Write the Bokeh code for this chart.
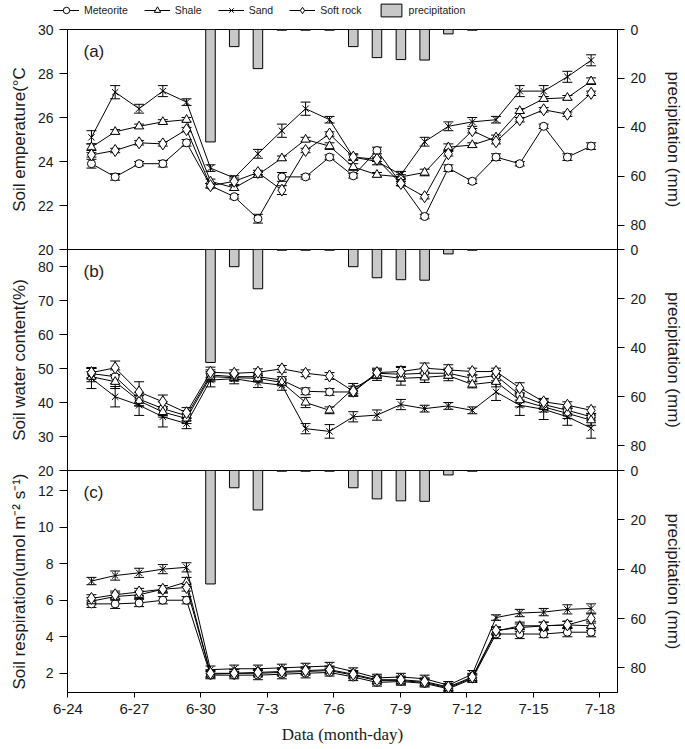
from bokeh.plotting import figure
from bokeh.layouts import column
from bokeh.models import (Range1d, LinearAxis, FixedTicker, Whisker, TeeHead,
                          ColumnDataSource, Legend, LegendItem, Label)
from bokeh.embed import file_html
from bokeh.resources import INLINE

# ---------------- data ----------------
day_pos = [1.06, 2.13, 3.21, 4.28, 5.35, 6.43, 7.50, 8.57, 9.65, 10.72, 11.80,
           12.87, 13.94, 15.02, 16.09, 17.16, 18.24, 19.31, 20.38, 21.46, 22.53, 23.60]
tick_days = [0, 3, 6, 9, 12, 15, 18, 21, 24]
tick_labels = ["6-24", "6-27", "6-30", "7-3", "7-6", "7-9", "7-12", "7-15", "7-18"]

precip_mm = [0, 0, 0, 0, 0, 46, 7, 16, 0.3, 0.3, 0.3, 7, 11.5, 12.3, 12.5, 1.8, 0.3, 0, 0, 0, 0, 0]

series_names = ["Meteorite", "Shale", "Sand", "Soft rock"]

# (a) soil temperature
temp_meteorite = [23.9, 23.3, 23.9, 23.9, 24.85, 22.9, 22.4, 21.4, 23.3, 23.3, 24.2,
                  23.35, 24.5, 23.0, 21.5, 23.7, 23.1, 24.2, 23.9, 25.6, 24.2, 24.7]
temp_shale = [24.65, 25.35, 25.6, 25.8, 25.9, 23.1, 22.8, 23.4, 24.15, 25.0, 24.7,
              23.75, 23.4, 23.3, 23.5, 24.65, 24.75, 25.1, 26.3, 26.85, 26.9, 27.65]
temp_sand = [25.1, 27.15, 26.4, 27.2, 26.7, 23.7, 23.25, 24.35, 25.4, 26.4, 25.9,
             24.2, 24.0, 23.4, 24.9, 25.6, 25.8, 25.9, 27.2, 27.2, 27.85, 28.6]
temp_softrock = [24.3, 24.5, 24.85, 24.8, 25.45, 22.9, 23.1, 23.5, 22.7, 24.5, 25.25,
                 24.2, 24.1, 23.0, 22.4, 24.35, 25.4, 24.9, 25.9, 26.35, 26.15, 27.1]
temp_err_meteorite = [0.2, 0.15, 0.1, 0.15, 0.15, 0.1, 0.1, 0.2, 0.2, 0.1, 0.1,
                      0.1, 0.15, 0.1, 0.1, 0.15, 0.1, 0.15, 0.1, 0.1, 0.15, 0.15]
temp_err_shale = [0.15, 0.1, 0.1, 0.1, 0.1, 0.1, 0.1, 0.1, 0.1, 0.1, 0.15,
                  0.15, 0.1, 0.1, 0.15, 0.15, 0.1, 0.1, 0.1, 0.1, 0.1, 0.15]
temp_err_sand = [0.3, 0.3, 0.2, 0.25, 0.15, 0.15, 0.1, 0.2, 0.3, 0.3, 0.15,
                 0.15, 0.15, 0.15, 0.2, 0.2, 0.2, 0.15, 0.25, 0.25, 0.25, 0.25]
temp_err_softrock = [0.1, 0.1, 0.1, 0.1, 0.1, 0.1, 0.15, 0.1, 0.2, 0.1, 0.1,
                     0.1, 0.1, 0.1, 0.1, 0.1, 0.1, 0.1, 0.1, 0.1, 0.1, 0.1]

# (b) soil water content
water_meteorite = [48.5, 47.6, 41.0, 38.2, 36.1, 48.1, 47.6, 47.6, 46.6, 43.3, 43.1,
                   43.1, 48.6, 48.3, 48.6, 48.6, 47.1, 47.9, 42.2, 39.4, 37.7, 35.8]
water_shale = [47.6, 46.1, 40.5, 37.2, 35.3, 47.6, 47.3, 47.1, 45.9, 40.0, 37.7,
               44.1, 48.0, 47.1, 47.4, 47.9, 45.3, 46.1, 40.7, 38.7, 36.8, 34.8]
water_sand = [47.1, 41.7, 39.2, 35.8, 33.8, 46.6, 47.0, 45.9, 45.1, 32.3, 31.5,
              35.8, 36.3, 39.4, 38.2, 39.0, 37.7, 43.1, 39.2, 38.0, 35.8, 32.5]
water_softrock = [48.8, 50.2, 43.1, 40.2, 37.0, 48.9, 48.6, 48.9, 49.9, 48.6, 47.8,
                  43.3, 48.8, 49.1, 50.1, 49.6, 49.1, 49.1, 44.3, 40.2, 39.2, 37.7]
water_err_meteorite = [1.5, 2, 2, 2, 1.5, 1.5, 1, 1, 1, 1, 1, 1, 1.5, 2, 1.5, 1.5, 1, 1.5, 1.5, 1, 1, 1]
water_err_shale = [1.5, 2, 1.5, 1.5, 1.5, 1.5, 1, 1, 1, 1.5, 1, 1.5, 1.5, 2, 1.5, 1.5, 1, 1.5, 2, 1.5, 1.5, 1.5]
water_err_sand = [3, 3, 3, 3, 1.5, 2, 1.5, 1.5, 1.5, 1.5, 2, 1.5, 1.5, 1.5, 1, 1, 1, 2.5, 3, 3, 2.5, 3]
water_err_softrock = [1.5, 2, 3, 2, 1.5, 1.5, 1, 1, 1, 1, 1, 1.5, 1, 1.5, 1.5, 1.5, 1, 1, 1.5, 1, 1, 1]

# (c) soil respiration
resp_meteorite = [5.8, 5.8, 5.85, 6.0, 6.0, 1.9, 1.9, 1.9, 1.95, 2.0, 2.05,
                  1.8, 1.5, 1.55, 1.45, 1.15, 1.7, 4.15, 4.15, 4.15, 4.25, 4.25]
resp_shale = [5.95, 6.2, 6.3, 6.6, 7.0, 1.95, 2.0, 2.0, 2.05, 2.1, 2.15,
              1.9, 1.6, 1.6, 1.5, 1.2, 1.75, 4.3, 4.6, 4.6, 4.65, 4.6]
resp_sand = [7.05, 7.35, 7.5, 7.7, 7.8, 2.2, 2.25, 2.25, 2.3, 2.35, 2.4,
             2.1, 1.75, 1.8, 1.7, 1.35, 1.95, 5.05, 5.3, 5.35, 5.5, 5.55]
resp_softrock = [6.1, 6.3, 6.45, 6.6, 6.7, 2.0, 2.0, 2.05, 2.1, 2.15, 2.2,
                 1.95, 1.65, 1.65, 1.55, 1.25, 1.8, 4.35, 4.5, 4.6, 4.65, 5.0]
resp_err_meteorite = [0.2, 0.25, 0.2, 0.2, 0.2, 0.2, 0.2, 0.25, 0.25, 0.25, 0.2,
                      0.2, 0.2, 0.2, 0.2, 0.2, 0.2, 0.25, 0.25, 0.2, 0.25, 0.25]
resp_err_shale = [0.2, 0.2, 0.2, 0.2, 0.25, 0.2, 0.2, 0.2, 0.2, 0.2, 0.2,
                  0.2, 0.2, 0.2, 0.2, 0.2, 0.2, 0.2, 0.2, 0.2, 0.2, 0.25]
resp_err_sand = [0.2, 0.25, 0.25, 0.25, 0.25, 0.2, 0.2, 0.2, 0.2, 0.2, 0.2,
                 0.2, 0.2, 0.2, 0.2, 0.2, 0.2, 0.15, 0.2, 0.2, 0.25, 0.25]
resp_err_softrock = [0.2, 0.2, 0.2, 0.2, 0.2, 0.2, 0.2, 0.2, 0.2, 0.2, 0.2,
                     0.2, 0.2, 0.2, 0.2, 0.2, 0.2, 0.2, 0.2, 0.2, 0.2, 0.25]

# ---------------- style ----------------
FONT = "Liberation Sans"
SERIF = "Liberation Serif"
TXT = "#1a1a1a"
BAR_FILL = "#c8c8c8"
marker_style = {
    "Meteorite": ("circle", 8),
    "Shale": ("triangle", 9),
    "Sand": ("x", 9),
    "Soft rock": ("diamond", 12),
}

x_range = Range1d(-0.02, 24.79)

bar_src = ColumnDataSource(dict(
    x=[d for d, v in zip(day_pos, precip_mm) if v > 0],
    top=[v for v in precip_mm if v > 0]))


def series_source(vals, errs):
    return ColumnDataSource(dict(
        x=day_pos, y=vals,
        lower=[v - e for v, e in zip(vals, errs)],
        upper=[v + e for v, e in zip(vals, errs)]))


def style_yaxis(ax, label, ticks):
    ax.ticker = FixedTicker(ticks=ticks)
    ax.axis_label = label
    ax.axis_label_text_font = FONT
    ax.axis_label_text_font_size = "17px"
    ax.axis_label_text_font_style = "normal"
    ax.axis_label_text_color = TXT
    ax.major_label_text_font = FONT
    ax.major_label_text_font_size = "14px"
    ax.major_label_text_color = TXT
    ax.axis_line_color = "black"
    ax.major_tick_line_color = "black"
    ax.major_tick_in = 0
    ax.minor_tick_line_color = None


def make_panel(sources, y_lo, y_hi, y_ticks, y_label, tag, frame_h,
               bottom_axis, bottom_border, overlap):
    p = figure(frame_width=550, frame_height=frame_h, x_range=x_range,
               y_range=Range1d(y_lo, y_hi), toolbar_location=None,
               output_backend="svg",
               x_axis_location="below" if bottom_axis else None,
               min_border_left=67, min_border_right=66,
               min_border_top=8, min_border_bottom=bottom_border,
               background_fill_color="white", border_fill_alpha=0,
               margin=(-overlap, 0, 0, 0))
    p.outline_line_color = "black"
    p.outline_line_width = 1
    p.grid.grid_line_color = None
    p.extra_y_ranges = {"precip": Range1d(90, 0)}

    ly = p.yaxis[0]
    style_yaxis(ly, y_label, y_ticks)
    ly.major_tick_out = 8
    ly.major_label_standoff = 6
    ly.axis_label_standoff = 6

    ry = LinearAxis(y_range_name="precip")
    style_yaxis(ry, "precipitation (mm)", [0, 20, 40, 60, 80])
    ry.major_tick_out = 7
    ry.major_label_standoff = 6
    ry.axis_label_standoff = 15
    p.add_layout(ry, "right")

    if bottom_axis:
        xa = p.xaxis[0]
        xa.ticker = FixedTicker(ticks=tick_days)
        xa.major_label_overrides = {d: l for d, l in zip(tick_days, tick_labels)}
        xa.axis_label = "Data (month-day)"
        xa.axis_label_text_font = SERIF
        xa.axis_label_text_font_size = "17px"
        xa.axis_label_text_font_style = "normal"
        xa.axis_label_text_color = TXT
        xa.major_label_text_font = FONT
        xa.major_label_text_font_size = "15px"
        xa.major_label_text_color = TXT
        xa.axis_line_color = "black"
        xa.major_tick_line_color = "black"
        xa.major_tick_in = 0
        xa.major_tick_out = 5
        xa.major_label_standoff = 6
        xa.axis_label_standoff = 8
        xa.minor_tick_line_color = None

    p.vbar(x="x", top="top", bottom=0, width=0.43, source=bar_src,
           fill_color=BAR_FILL, line_color="black", line_width=1,
           y_range_name="precip")

    for name, src in zip(series_names, sources):
        w = Whisker(base="x", lower="lower", upper="upper", source=src,
                    line_color="black", line_width=1,
                    upper_head=TeeHead(size=10, line_color="black", line_width=1),
                    lower_head=TeeHead(size=10, line_color="black", line_width=1))
        p.add_layout(w)
        p.line("x", "y", source=src, line_color="black", line_width=1)
        mk, sz = marker_style[name]
        p.scatter("x", "y", source=src, marker=mk, size=sz,
                  fill_color="white", line_color="black", line_width=1)

    p.add_layout(Label(x=16, y=frame_h - 22, x_units="screen", y_units="screen",
                       text=tag, text_font=FONT, text_font_size="17px",
                       text_color=TXT, text_baseline="middle"))
    return p


src_a = [series_source(temp_meteorite, temp_err_meteorite),
         series_source(temp_shale, temp_err_shale),
         series_source(temp_sand, temp_err_sand),
         series_source(temp_softrock, temp_err_softrock)]
src_b = [series_source(water_meteorite, water_err_meteorite),
         series_source(water_shale, water_err_shale),
         series_source(water_sand, water_err_sand),
         series_source(water_softrock, water_err_softrock)]
src_c = [series_source(resp_meteorite, resp_err_meteorite),
         series_source(resp_shale, resp_err_shale),
         series_source(resp_sand, resp_err_sand),
         series_source(resp_softrock, resp_err_softrock)]

# legend strip on top: its ranges hold none of the data, it only shows the keys
pl = figure(width=683, height=21, x_range=Range1d(-100, -99), y_range=Range1d(-100, -99),
            toolbar_location=None, output_backend="svg",
            x_axis_location=None, y_axis_location=None, min_border=0,
            outline_line_color=None, border_fill_alpha=0, background_fill_alpha=0)
pl.grid.grid_line_color = None
items = []
for name, src in zip(series_names, src_a):
    mk, sz = marker_style[name]
    lr = pl.line("x", "y", source=src, line_color="black", line_width=1)
    sr = pl.scatter("x", "y", source=src, marker=mk, size=sz, fill_color="white",
                    line_color="black", line_width=1)
    items.append(LegendItem(label=name, renderers=[lr, sr]))
br = pl.vbar(x="x", top="top", bottom=0, width=0.4, source=bar_src,
             fill_color=BAR_FILL, line_color="black", line_width=1)
items.append(LegendItem(label="precipitation", renderers=[br]))
legend = Legend(items=items, orientation="horizontal", location=(53, 3),
                label_text_font=FONT, label_text_font_size="10.5px",
                label_text_color=TXT, glyph_width=26, glyph_height=16,
                label_height=14, label_standoff=5, spacing=16, padding=0,
                margin=0, border_line_color=None, background_fill_alpha=0)
pl.add_layout(legend)

pa = make_panel(src_a, 20, 30, [20, 22, 24, 26, 28, 30], "Soil emperature(°C", "(a)",
                220, False, 8, 0)
pb = make_panel(src_b, 20, 85, [20, 30, 40, 50, 60, 70, 80], "Soil water content(%)", "(b)",
                221, False, 8, 16)
pc = make_panel(src_c, 0.95, 13.1, [2, 4, 6, 8, 10, 12], "Soil respiration(umol m⁻² s⁻¹)", "(c)",
                222, True, 56, 16)

layout = column(pl, column(pa, pb, pc, spacing=0), spacing=0)
open("out.html", "w").write(file_html(layout, INLINE))
